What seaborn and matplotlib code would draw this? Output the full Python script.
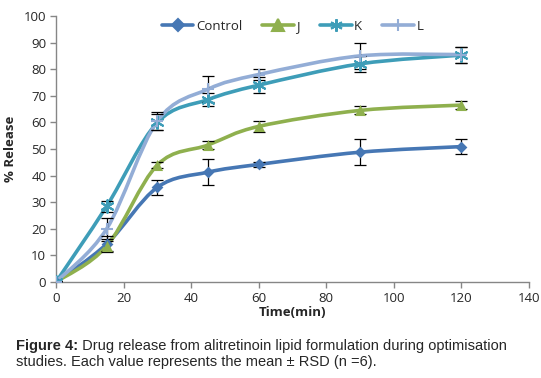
import matplotlib
matplotlib.use("Agg")
import matplotlib.pyplot as plt
import seaborn as sns
import numpy as np
from matplotlib.path import Path
from matplotlib.patches import PathPatch
from matplotlib.lines import Line2D

# data
time_min = [0, 15, 30, 45, 60, 90, 120]
control = [0, 14.3, 35.6, 41.3, 44.2, 48.8, 50.9]
control_err = [0.5, 3.0, 2.8, 5.0, 1.0, 5.0, 2.8]
j_vals = [0, 13.5, 44.0, 51.5, 58.5, 64.5, 66.5]
j_err = [0.5, 2.0, 1.0, 1.5, 2.0, 1.5, 1.5]
k_vals = [0, 28.5, 60.0, 68.6, 74.0, 82.0, 85.3]
k_err = [0.5, 2.0, 3.0, 2.5, 3.0, 3.0, 3.0]
l_vals = [0, 20.0, 60.5, 72.5, 78.0, 85.0, 85.5]
l_err = [0.5, 4.0, 3.5, 5.0, 2.0, 5.0, 3.0]

series = [
    ("Control", control, control_err, "#4677B4", "D", 6),
    ("J", j_vals, j_err, "#8FB04E", "^", 8),
    ("K", k_vals, k_err, "#3E9DB8", (6, 2, 0), 9),
    ("L", l_vals, l_err, "#93ADD6", "+", 9),
]


def smooth_path(xs, ys):
    # excel-like smoothed line: cubic bezier through the points
    pts = np.column_stack([xs, ys]).astype(float)
    n = len(pts)
    verts = [pts[0]]
    codes = [Path.MOVETO]
    for i in range(n - 1):
        p0 = pts[i - 1] if i > 0 else pts[i]
        p1 = pts[i]
        p2 = pts[i + 1]
        p3 = pts[i + 2] if i + 2 < n else pts[i + 1]
        c1 = p1 + (p2 - p0) / 6.0
        c2 = p2 - (p3 - p1) / 6.0
        verts += [c1, c2, p2]
        codes += [Path.CURVE4] * 3
    return Path(verts, codes)


sns.set_style("white")
plt.rcParams["font.family"] = ["Open Sans", "DejaVu Sans"]

fig = plt.figure(figsize=(5.41, 3.78), dpi=100)
ax = fig.add_axes([56 / 541, 1 - 282 / 378, 473 / 541, 266 / 378])

for name, vals, err, col, mk, ms in series:
    ax.add_patch(PathPatch(smooth_path(time_min, vals), fill=False,
                           edgecolor=col, lw=2.6, zorder=2, capstyle="round"))
    ax.errorbar(time_min, vals, yerr=err, fmt="none", ecolor="black",
                elinewidth=0.9, capsize=4, capthick=0.9, zorder=3)
    sns.scatterplot(x=time_min, y=vals, ax=ax, color=col, marker=mk,
                    s=ms ** 2, linewidth=1.5 if mk in ("+", (6, 2, 0)) else 0,
                    edgecolor=col, zorder=4, legend=False)

handles = [Line2D([], [], color=c, lw=2.6, marker=m, markersize=s,
                  markeredgecolor=c, markeredgewidth=1.5)
           for _, _, _, c, m, s in series]
ax.legend(handles, [s[0] for s in series], loc="upper center",
          bbox_to_anchor=(0.5, 1.03), ncol=4, frameon=False,
          handlelength=2.4, columnspacing=1.5, handletextpad=0.2,
          prop={"size": 9.5})

ax.set_xlim(0, 140)
ax.set_ylim(0, 100)
ax.set_xticks(range(0, 141, 20))
ax.set_yticks(range(0, 101, 10))
ax.tick_params(axis="both", labelsize=9.5, direction="out", length=4,
               width=1, color="#868686", left=True, bottom=True, pad=3)
for side in ("top", "right"):
    ax.spines[side].set_visible(False)
for side in ("left", "bottom"):
    ax.spines[side].set_color("#868686")
    ax.spines[side].set_linewidth(1)
ax.set_xlabel("Time(min)", fontsize=9.5, fontweight="bold", labelpad=1)
ax.set_ylabel("% Release", fontsize=9.5, fontweight="bold", labelpad=5)

cap_font = ["Liberation Sans", "DejaVu Sans"]
t1 = fig.text(16 / 541, 1 - 350 / 378, "Figure 4:", fontsize=10.5,
              fontweight="bold", family=cap_font)
ax.annotate(" Drug release from alitretinoin lipid formulation during optimisation",
            xy=(1, 0), xycoords=t1, fontsize=10.5, family=cap_font, va="bottom")
fig.text(16 / 541, 1 - 366 / 378,
         "studies. Each value represents the mean \u00b1 RSD (n =6).",
         fontsize=10.5, family=cap_font)

fig.savefig("out.png", dpi=100)
